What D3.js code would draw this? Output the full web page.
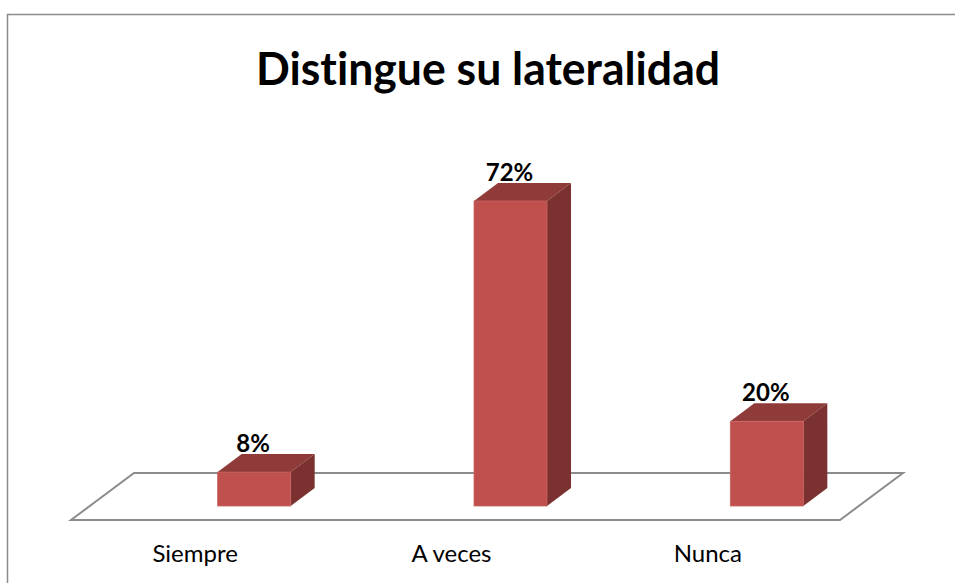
<!DOCTYPE html>
<html lang="es">
<head>
    <meta charset="UTF-8">
    <title>Distingue su lateralidad</title>
    <script src="https://d3js.org/d3.v7.min.js"></script>
    <style>
        body { margin: 0; background: #fff; }
        svg { display: block; }
        text { font-variant-ligatures: none; font-feature-settings: "liga" 0; }
    </style>
</head>
<body>
    <script>
        // datos
        const categories = ["Siempre", "A veces", "Nunca"];
        const values = [8, 72, 20];
        const labels = ["8%", "72%", "20%"];

        const width = 955;
        const height = 583;

        const svg = d3.select("body").append("svg")
            .attr("width", width).attr("height", height);

        // marco del gráfico
        svg.append("rect")
            .attr("x", 7.5).attr("y", 14.5)
            .attr("width", 960).attr("height", 600)
            .attr("fill", "#fff")
            .attr("stroke", "#8c8c8c")
            .attr("stroke-width", 1.5);

        // título
        svg.append("text")
            .attr("x", 488).attr("y", 85)
            .attr("text-anchor", "middle")
            .attr("font-family", "Lato, 'Open Sans', sans-serif")
            .attr("font-weight", "bold")
            .attr("font-size", 46)
            .attr("textLength", 464)
            .attr("lengthAdjust", "spacingAndGlyphs")
            .text("Distingue su lateralidad");

        // escalas
        const x = d3.scaleBand().domain(categories).range([71, 840]);
        const y = d3.scaleLinear().domain([0, 72]).range([506, 201]);

        const floorFront = 520, floorBack = 473;
        const floorDx = 63;               // desplazamiento del fondo del suelo
        const depthX = 24, depthY = -18;  // profundidad de las barras
        const barW = 73, barShift = 55;

        // suelo
        const [fx0, fx1] = x.range();
        svg.append("path")
            .attr("d", `M${fx0},${floorFront} L${fx1},${floorFront} L${fx1 + floorDx},${floorBack} L${fx0 + floorDx},${floorBack} Z`)
            .attr("fill", "#fff")
            .attr("stroke", "#8c8c8c")
            .attr("stroke-width", 2);

        const bars = svg.selectAll("g.bar")
            .data(categories.map((c, i) => ({ c, v: values[i], label: labels[i] })))
            .enter().append("g").attr("class", "bar");

        const left = d => x(d.c) + x.bandwidth() / 2 + barShift - barW / 2;

        // cara superior
        bars.append("path")
            .attr("d", d => {
                const x0 = left(d), x1 = x0 + barW, yt = y(d.v);
                return `M${x0},${yt} L${x1},${yt} L${x1 + depthX},${yt + depthY} L${x0 + depthX},${yt + depthY} Z`;
            })
            .attr("fill", "#8f3b39");

        // cara lateral
        bars.append("path")
            .attr("d", d => {
                const x1 = left(d) + barW, yt = y(d.v), yb = y(0);
                return `M${x1},${yt} L${x1 + depthX},${yt + depthY} L${x1 + depthX},${yb + depthY} L${x1},${yb} Z`;
            })
            .attr("fill", "#7a3130");

        // cara frontal
        bars.append("rect")
            .attr("x", d => left(d))
            .attr("y", d => y(d.v))
            .attr("width", barW)
            .attr("height", d => y(0) - y(d.v))
            .attr("fill", "#c0504d")
            .attr("stroke", "#c86360")
            .attr("stroke-width", 0.8);

        // etiquetas de datos
        bars.append("text")
            .attr("x", d => left(d) + barW / 2 - 1)
            .attr("y", d => y(d.v) + depthY - 2)
            .attr("text-anchor", "middle")
            .attr("font-family", "Lato, 'Open Sans', sans-serif")
            .attr("font-weight", "bold")
            .attr("font-size", 24)
            .text(d => d.label);

        // etiquetas de categoría
        svg.selectAll("text.cat")
            .data(categories)
            .enter().append("text")
            .attr("class", "cat")
            .attr("x", d => x(d) + x.bandwidth() / 2 - 4)
            .attr("y", 562)
            .attr("text-anchor", "middle")
            .attr("font-family", "Lato, 'Open Sans', sans-serif")
            .attr("font-size", 24)
            .attr("fill", "#000")
            .text(d => d);
    </script>
</body>
</html>
